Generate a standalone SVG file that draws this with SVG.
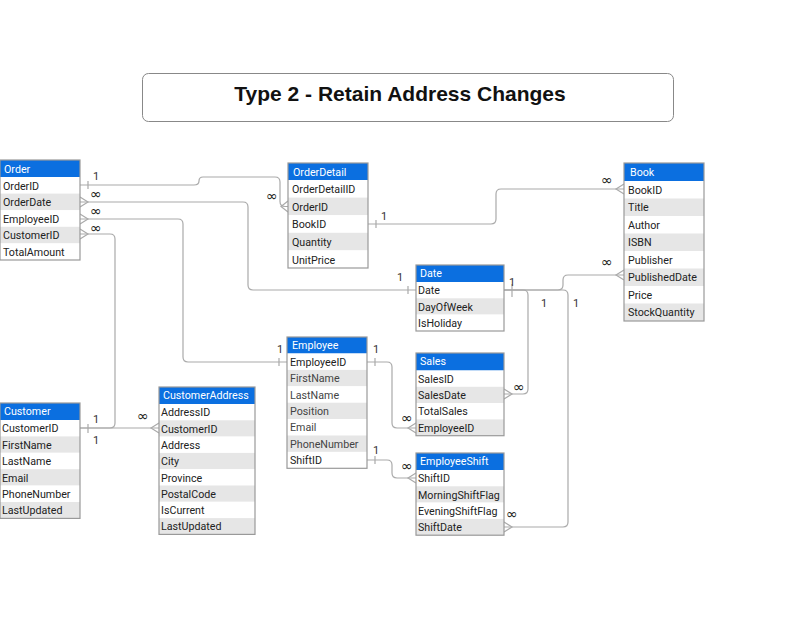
<svg xmlns="http://www.w3.org/2000/svg" width="800" height="618" viewBox="0 0 800 618">
<style>
text{font-family:Roboto,"Liberation Sans",sans-serif;}
.hd{fill:#0b6fe0;}
.hdt{fill:#fff;font-size:10.7px;}
.rw{fill:#fff;}
.rg{fill:#e6e6e6;}
.ft{fill:#222;font-size:10.7px;}
.fe{fill:#444;font-size:10.7px;}
.bd{fill:none;stroke:#999;stroke-width:1.2;}
.cn{fill:none;stroke:#aaa;stroke-width:1.2;}
.lb{fill:#333;font-size:11px;text-anchor:middle;}
.inf{fill:#222;font-size:14.5px;text-anchor:middle;font-family:"DejaVu Sans",sans-serif;}
</style>
<rect width="800" height="618" fill="#fff"/>
<g id="title">
<rect x="142.5" y="73.5" width="531" height="48" rx="6" fill="#fff" stroke="#888" stroke-width="1"/>
<text x="400" y="101" text-anchor="middle" style="font-family:'Liberation Sans',Arial,sans-serif;font-size:21px;font-weight:bold;fill:#111">Type 2 - Retain Address Changes</text>
</g>

<g id="connectors">
<path class="cn" d="M80,185 H194 Q199,185 199,181 Q199,177 203,177 H275 Q280,177 280,182 V201.5 Q280,206.5 285,206.5 H288"/>
<path class="cn" d="M80,202 H243 Q248,202 248,207 V285 Q248,290 253,290 H416"/>
<path class="cn" d="M80,219 H178 Q183,219 183,224 V357 Q183,362 188,362 H287"/>
<path class="cn" d="M80,234 H110 Q115,234 115,239 V423 Q115,428 110,428 H80"/>
<path class="cn" d="M80,428 H159"/>
<path class="cn" d="M368,224 H491 Q496,224 496,219 V194 Q496,189 501,189 H624"/>
<path class="cn" d="M504,290 H558 Q563,290 563,285 V280 Q563,275 568,275 H624"/>
<path class="cn" d="M504,290 H523 Q528,290 528,295 V389 Q528,394 523,394 H504"/>
<path class="cn" d="M504,290 H563 Q568,290 568,295 V522 Q568,527 563,527 H504"/>
<path class="cn" d="M367,362 H387 Q392,362 392,367 V423 Q392,428 397,428 H416"/>
<path class="cn" d="M367,460 H387 Q392,460 392,465 V473 Q392,478 397,478 H416"/>
<path class="cn" d="M88,181 V189 M408,286 V294 M512,284 V297 M279,358 V366 M88,424 V433 M376,220 V228 M375,358 V366 M375,456 V464"/>
<path class="cn" d="M288,201 L281,206.5 L288,212"/>
<path class="cn" d="M80,197 L88,202 L80,207"/>
<path class="cn" d="M80,214 L88,219 L80,224"/>
<path class="cn" d="M80,229 L88,234 L80,239"/>
<path class="cn" d="M159,423 L151,428 L159,433"/>
<path class="cn" d="M624,184 L616,189 L624,194"/>
<path class="cn" d="M624,270 L616,275 L624,280"/>
<path class="cn" d="M504,389 L512,394 L504,399"/>
<path class="cn" d="M504,522 L512,527 L504,532"/>
<path class="cn" d="M416,423 L408,428 L416,433"/>
<path class="cn" d="M416,473 L408,478 L416,483"/>
<text class="lb" x="96" y="180">1</text>
<text class="lb" x="384" y="220">1</text>
<text class="lb" x="400" y="281">1</text>
<text class="lb" x="512" y="286">1</text>
<text class="lb" x="544" y="307">1</text>
<text class="lb" x="576" y="307">1</text>
<text class="lb" x="280" y="353">1</text>
<text class="lb" x="96" y="423">1</text>
<text class="lb" x="96" y="444">1</text>
<text class="lb" x="376" y="353">1</text>
<text class="lb" x="376" y="454">1</text>
<text class="inf" x="96" y="199">∞</text>
<text class="inf" x="96" y="216">∞</text>
<text class="inf" x="96" y="233">∞</text>
<text class="inf" x="272" y="201">∞</text>
<text class="inf" x="607" y="185">∞</text>
<text class="inf" x="607" y="267">∞</text>
<text class="inf" x="143" y="421">∞</text>
<text class="inf" x="407" y="423">∞</text>
<text class="inf" x="407" y="471">∞</text>
<text class="inf" x="519" y="392">∞</text>
<text class="inf" x="512" y="519">∞</text>
</g>

<g id="Order">
<rect class="hd" x="0" y="160" width="80" height="17"/>
<text class="hdt" x="4" y="172.5">Order</text>
<rect class="rw" x="0" y="177" width="80" height="16.6"/>
<rect class="rg" x="0" y="193.6" width="80" height="16.6"/>
<rect class="rw" x="0" y="210.2" width="80" height="16.6"/>
<rect class="rg" x="0" y="226.8" width="80" height="16.6"/>
<rect class="rw" x="0" y="243.4" width="80" height="16.6"/>
<text class="ft" x="3" y="189.5">OrderID</text>
<text class="ft" x="3" y="206">OrderDate</text>
<text class="ft" x="3" y="222.5">EmployeeID</text>
<text class="ft" x="3" y="239">CustomerID</text>
<text class="ft" x="3" y="256">TotalAmount</text>
<rect class="bd" x="0" y="160" width="80" height="100"/>
</g>

<g id="OrderDetail">
<rect class="hd" x="288" y="163" width="80" height="17"/>
<text class="hdt" x="293" y="175.5">OrderDetail</text>
<rect class="rw" x="288" y="180" width="80" height="17.6"/>
<rect class="rg" x="288" y="197.6" width="80" height="17.6"/>
<rect class="rw" x="288" y="215.2" width="80" height="17.6"/>
<rect class="rg" x="288" y="232.8" width="80" height="17.6"/>
<rect class="rw" x="288" y="250.4" width="80" height="17.6"/>
<text class="ft" x="292" y="193">OrderDetailID</text>
<text class="ft" x="292" y="210.5">OrderID</text>
<text class="ft" x="292" y="228">BookID</text>
<text class="ft" x="292" y="246">Quantity</text>
<text class="ft" x="292" y="263.5">UnitPrice</text>
<rect class="bd" x="288" y="163" width="80" height="105"/>
</g>

<g id="Book">
<rect class="hd" x="624" y="163" width="80" height="18"/>
<text class="hdt" x="630" y="175.5">Book</text>
<rect class="rw" x="624" y="181" width="80" height="17.5"/>
<rect class="rg" x="624" y="198.5" width="80" height="17.5"/>
<rect class="rw" x="624" y="216" width="80" height="17.5"/>
<rect class="rg" x="624" y="233.5" width="80" height="17.5"/>
<rect class="rw" x="624" y="251" width="80" height="17.5"/>
<rect class="rg" x="624" y="268.5" width="80" height="17.5"/>
<rect class="rw" x="624" y="286" width="80" height="17.5"/>
<rect class="rg" x="624" y="303.5" width="80" height="17.5"/>
<text class="ft" x="628" y="193.5">BookID</text>
<text class="ft" x="628" y="211">Title</text>
<text class="ft" x="628" y="228.5">Author</text>
<text class="ft" x="628" y="246">ISBN</text>
<text class="ft" x="628" y="263.5">Publisher</text>
<text class="ft" x="628" y="281">PublishedDate</text>
<text class="ft" x="628" y="298.5">Price</text>
<text class="ft" x="628" y="316">StockQuantity</text>
<rect class="bd" x="624" y="163" width="80" height="158"/>
</g>

<g id="Date">
<rect class="hd" x="416" y="265" width="88" height="17"/>
<text class="hdt" x="420" y="277">Date</text>
<rect class="rw" x="416" y="282" width="88" height="16.3"/>
<rect class="rg" x="416" y="298.3" width="88" height="16.3"/>
<rect class="rw" x="416" y="314.6" width="88" height="16.3"/>
<text class="ft" x="418" y="294">Date</text>
<text class="ft" x="418" y="310.5">DayOfWeek</text>
<text class="ft" x="418" y="326.5">IsHoliday</text>
<rect class="bd" x="416" y="265" width="88" height="66"/>
</g>

<g id="Customer">
<rect class="hd" x="0" y="403" width="80" height="17"/>
<text class="hdt" x="4" y="415">Customer</text>
<rect class="rw" x="0" y="420" width="80" height="16.4"/>
<rect class="rg" x="0" y="436.4" width="80" height="16.4"/>
<rect class="rw" x="0" y="452.8" width="80" height="16.4"/>
<rect class="rg" x="0" y="469.2" width="80" height="16.4"/>
<rect class="rw" x="0" y="485.6" width="80" height="16.4"/>
<rect class="rg" x="0" y="502" width="80" height="16.4"/>
<text class="ft" x="2" y="432">CustomerID</text>
<text class="ft" x="2" y="448.5">FirstName</text>
<text class="ft" x="2" y="465">LastName</text>
<text class="ft" x="2" y="481.5">Email</text>
<text class="ft" x="2" y="497.5">PhoneNumber</text>
<text class="ft" x="2" y="514">LastUpdated</text>
<rect class="bd" x="0" y="403" width="80" height="115.4"/>
</g>

<g id="CustomerAddress">
<rect class="hd" x="159" y="387" width="96" height="17"/>
<text class="hdt" x="163" y="399">CustomerAddress</text>
<rect class="rw" x="159" y="404" width="96" height="16.3"/>
<rect class="rg" x="159" y="420.3" width="96" height="16.3"/>
<rect class="rw" x="159" y="436.6" width="96" height="16.3"/>
<rect class="rg" x="159" y="452.9" width="96" height="16.3"/>
<rect class="rw" x="159" y="469.2" width="96" height="16.3"/>
<rect class="rg" x="159" y="485.5" width="96" height="16.3"/>
<rect class="rw" x="159" y="501.8" width="96" height="16.3"/>
<rect class="rg" x="159" y="518.1" width="96" height="16.3"/>
<text class="ft" x="161" y="416">AddressID</text>
<text class="ft" x="161" y="432.5">CustomerID</text>
<text class="ft" x="161" y="448.5">Address</text>
<text class="ft" x="161" y="465">City</text>
<text class="ft" x="161" y="481.5">Province</text>
<text class="ft" x="161" y="497.5">PostalCode</text>
<text class="ft" x="161" y="514">IsCurrent</text>
<text class="ft" x="161" y="530">LastUpdated</text>
<rect class="bd" x="159" y="387" width="96" height="147.4"/>
</g>

<g id="Employee">
<rect class="hd" x="287" y="337" width="80" height="16.5"/>
<text class="hdt" x="292" y="348.5">Employee</text>
<rect class="rw" x="287" y="353.5" width="80" height="16.4"/>
<rect class="rg" x="287" y="369.9" width="80" height="16.4"/>
<rect class="rw" x="287" y="386.3" width="80" height="16.4"/>
<rect class="rg" x="287" y="402.7" width="80" height="16.4"/>
<rect class="rw" x="287" y="419.1" width="80" height="16.4"/>
<rect class="rg" x="287" y="435.5" width="80" height="16.4"/>
<rect class="rw" x="287" y="451.9" width="80" height="16.4"/>
<text class="ft" x="290" y="365.5">EmployeeID</text>
<text class="fe" x="290" y="382">FirstName</text>
<text class="fe" x="290" y="398.5">LastName</text>
<text class="fe" x="290" y="414.5">Position</text>
<text class="fe" x="290" y="431">Email</text>
<text class="fe" x="290" y="447.5">PhoneNumber</text>
<text class="ft" x="290" y="464">ShiftID</text>
<rect class="bd" x="287" y="337" width="80" height="131.3"/>
</g>

<g id="Sales">
<rect class="hd" x="416" y="353" width="88" height="17.5"/>
<text class="hdt" x="420" y="365">Sales</text>
<rect class="rw" x="416" y="370.5" width="88" height="16.3"/>
<rect class="rg" x="416" y="386.8" width="88" height="16.3"/>
<rect class="rw" x="416" y="403.1" width="88" height="16.3"/>
<rect class="rg" x="416" y="419.4" width="88" height="16.3"/>
<text class="ft" x="418" y="382.5">SalesID</text>
<text class="ft" x="418" y="399">SalesDate</text>
<text class="ft" x="418" y="415">TotalSales</text>
<text class="ft" x="418" y="431.5">EmployeeID</text>
<rect class="bd" x="416" y="353" width="88" height="82.7"/>
</g>

<g id="EmployeeShift">
<rect class="hd" x="416" y="453" width="88" height="17"/>
<text class="hdt" x="420" y="465">EmployeeShift</text>
<rect class="rw" x="416" y="470" width="88" height="16.3"/>
<rect class="rg" x="416" y="486.3" width="88" height="16.3"/>
<rect class="rw" x="416" y="502.6" width="88" height="16.3"/>
<rect class="rg" x="416" y="518.9" width="88" height="16.3"/>
<text class="ft" x="418" y="482">ShiftID</text>
<text class="ft" x="418" y="498.5">MorningShiftFlag</text>
<text class="ft" x="418" y="514.5">EveningShiftFlag</text>
<text class="ft" x="418" y="531">ShiftDate</text>
<rect class="bd" x="416" y="453" width="88" height="82.2"/>
</g>
</svg>
